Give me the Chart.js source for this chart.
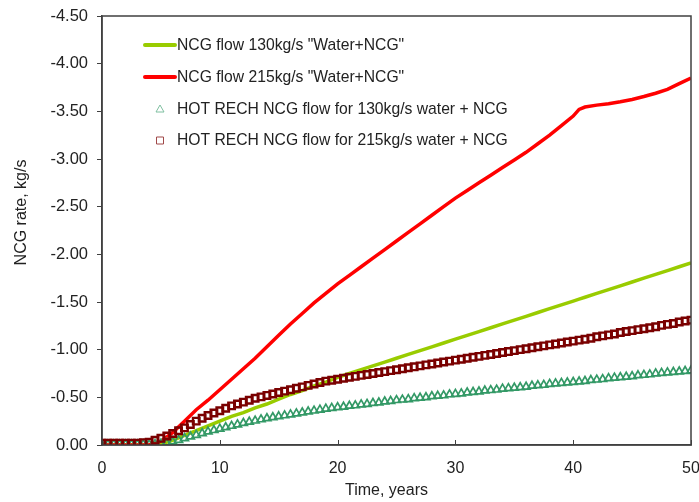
<!DOCTYPE html>
<html>
<head>
<meta charset="utf-8">
<script src="https://cdn.jsdelivr.net/npm/chart.js@4/dist/chart.umd.min.js"></script>
<style>
  html, body { margin: 0; padding: 0; background: #ffffff; }
  #wrap { width: 699px; height: 502px; }
</style>
</head>
<body>
<div id="wrap"><canvas id="chart" width="699" height="502"></canvas></div>
<script>
// Simulated NCG rate (kg/s, negative = extraction) against time in years.

// Time axis of the simulated curves (years)
const lineYears = [0, 1, 2, 3, 4, 5, 6, 7, 8, 9, 10, 11, 12, 13, 14, 15, 16, 17, 18, 19, 20,
  21, 22, 23, 24, 25, 26, 27, 28, 29, 30, 31, 32, 33, 34, 35, 36, 37, 38, 39, 40, 40.5,
  41, 42, 43, 44, 45, 46, 47, 48, 49, 50];

// NCG flow 130 kg/s "Water+NCG"
const ncg130 = [0, 0, 0, 0, 0, -0.01, -0.05, -0.10, -0.15, -0.20, -0.25, -0.30, -0.34, -0.39, -0.43, -0.48, -0.53, -0.57, -0.62, -0.66, -0.71,
  -0.75, -0.79, -0.83, -0.87, -0.91, -0.95, -0.99, -1.03, -1.07, -1.11, -1.15, -1.19, -1.23, -1.27, -1.31, -1.35, -1.39, -1.43, -1.47, -1.51, -1.53,
  -1.55, -1.59, -1.63, -1.67, -1.71, -1.75, -1.79, -1.83, -1.87, -1.91];

// NCG flow 215 kg/s "Water+NCG"
const ncg215 = [0, 0, 0, 0, 0, -0.04, -0.13, -0.25, -0.37, -0.47, -0.58, -0.69, -0.80, -0.91, -1.03, -1.15, -1.27, -1.38, -1.49, -1.59, -1.69,
  -1.78, -1.87, -1.96, -2.05, -2.14, -2.23, -2.32, -2.41, -2.50, -2.59, -2.67, -2.75, -2.83, -2.91, -2.99, -3.07, -3.16, -3.25, -3.35, -3.45, -3.52,
  -3.545, -3.565, -3.58, -3.60, -3.625, -3.655, -3.69, -3.73, -3.79, -3.85];

// Time axis of the HOT RECH output (years)
const hotYears = [0, 0.5, 1, 1.5, 2, 2.5, 3, 3.5, 4, 4.5, 5, 5.5, 6, 6.5, 7, 7.5, 8, 8.5, 9, 9.5,
  10, 10.5, 11, 11.5, 12, 12.5, 13, 13.5, 14, 14.5, 15, 15.5, 16, 16.5, 17, 17.5, 18, 18.5, 19, 19.5,
  20, 20.5, 21, 21.5, 22, 22.5, 23, 23.5, 24, 24.5, 25, 25.5, 26, 26.5, 27, 27.5, 28, 28.5, 29, 29.5,
  30, 30.5, 31, 31.5, 32, 32.5, 33, 33.5, 34, 34.5, 35, 35.5, 36, 36.5, 37, 37.5, 38, 38.5, 39, 39.5,
  40, 40.5, 41, 41.5, 42, 42.5, 43, 43.5, 44, 44.5, 45, 45.5, 46, 46.5, 47, 47.5, 48, 48.5, 49, 49.5, 50];

// HOT RECH NCG flow for 130 kg/s water + NCG
const hot130 = [-0.005, -0.005, -0.005, -0.005, -0.005, -0.005, -0.005, -0.005, -0.005, -0.008, -0.012, -0.02, -0.035, -0.052, -0.07, -0.088, -0.105, -0.122, -0.14, -0.155,
  -0.17, -0.185, -0.20, -0.215, -0.23, -0.243, -0.255, -0.268, -0.28, -0.29, -0.30, -0.31, -0.32, -0.33, -0.34, -0.35, -0.36, -0.37, -0.38, -0.388,
  -0.395, -0.40, -0.41, -0.415, -0.425, -0.43, -0.44, -0.445, -0.455, -0.46, -0.47, -0.475, -0.48, -0.49, -0.495, -0.50, -0.51, -0.515, -0.52, -0.53,
  -0.535, -0.54, -0.55, -0.555, -0.56, -0.57, -0.575, -0.58, -0.59, -0.595, -0.60, -0.605, -0.61, -0.62, -0.625, -0.63, -0.64, -0.645, -0.65, -0.655,
  -0.66, -0.665, -0.67, -0.68, -0.685, -0.69, -0.70, -0.705, -0.71, -0.715, -0.72, -0.73, -0.735, -0.74, -0.75, -0.755, -0.76, -0.765, -0.77, -0.775, -0.78];

// HOT RECH NCG flow for 215 kg/s water + NCG
const hot215 = [-0.02, -0.02, -0.02, -0.02, -0.02, -0.02, -0.02, -0.025, -0.03, -0.05, -0.07, -0.095, -0.12, -0.15, -0.18, -0.215, -0.25, -0.28, -0.31, -0.335,
  -0.36, -0.385, -0.41, -0.43, -0.45, -0.47, -0.49, -0.505, -0.52, -0.535, -0.55, -0.565, -0.58, -0.595, -0.61, -0.625, -0.64, -0.655, -0.67, -0.68,
  -0.69, -0.70, -0.71, -0.72, -0.73, -0.74, -0.75, -0.76, -0.77, -0.78, -0.79, -0.80, -0.81, -0.82, -0.83, -0.84, -0.85, -0.86, -0.87, -0.88,
  -0.89, -0.90, -0.91, -0.92, -0.93, -0.94, -0.95, -0.96, -0.97, -0.98, -0.99, -1.00, -1.01, -1.02, -1.03, -1.04, -1.05, -1.06, -1.07, -1.08,
  -1.09, -1.10, -1.11, -1.12, -1.135, -1.145, -1.155, -1.165, -1.18, -1.19, -1.20, -1.21, -1.22, -1.23, -1.24, -1.255, -1.265, -1.275, -1.29, -1.30, -1.31];

// Axis ticks
const xTicks = [0, 10, 20, 30, 40, 50];
const yTicks = [0, -0.5, -1, -1.5, -2, -2.5, -3, -3.5, -4, -4.5];

const xTitle = 'Time, years';
const yTitle = 'NCG rate, kg/s';

const seriesLabels = [
  'NCG flow 130kg/s "Water+NCG"',
  'NCG flow 215kg/s "Water+NCG"',
  'HOT RECH NCG flow for 130kg/s water + NCG',
  'HOT RECH NCG flow for 215kg/s water + NCG'
];

const pair = (xs, ys) => xs.map((x, i) => ({ x: x, y: ys[i] }));

const FONT = '"Liberation Sans", Arial, sans-serif';
const TEXT = '#222222';
const AXIS = '#404040';

// Frame around the plot area, inward ticks on the time axis, axis titles
const framePlugin = {
  id: 'frame',
  afterDraw(chart) {
    const { ctx, chartArea: a, scales } = chart;
    ctx.save();
    ctx.strokeStyle = AXIS;
    ctx.lineWidth = 1.5;
    ctx.strokeRect(a.left, a.top, a.right - a.left, a.bottom - a.top);
    ctx.lineWidth = 1;
    xTicks.forEach(v => {
      const px = Math.round(scales.x.getPixelForValue(v)) + 0.5;
      ctx.beginPath();
      ctx.moveTo(px, a.bottom);
      ctx.lineTo(px, a.bottom - 5);
      ctx.stroke();
    });

    ctx.fillStyle = TEXT;
    ctx.font = '16px ' + FONT;
    ctx.textAlign = 'center';
    ctx.textBaseline = 'middle';
    ctx.fillText(xTitle, a.left + (a.right - a.left) * 0.483, 491);
    ctx.translate(22, a.top + (a.bottom - a.top) * 0.458);
    ctx.rotate(-Math.PI / 2);
    ctx.fillText(yTitle, 0, 0);
    ctx.restore();
  }
};

// Legend drawn inside the plot area
const legendPlugin = {
  id: 'innerLegend',
  afterDraw(chart) {
    const { ctx } = chart;
    const x0 = 145, x1 = 175, tx = 177;
    const rows = [45, 77, 109, 140];
    ctx.save();
    ctx.font = '15.7px ' + FONT;
    ctx.textBaseline = 'middle';
    ctx.textAlign = 'left';
    chart.data.datasets.forEach(ds => {
      const y = rows[ds.legendRow];
      if (ds.showLine) {
        ctx.strokeStyle = ds.borderColor;
        ctx.lineWidth = 4;
        ctx.lineCap = 'round';
        ctx.beginPath();
        ctx.moveTo(x0, y);
        ctx.lineTo(x1, y);
        ctx.stroke();
      } else {
        const cx = 160;
        ctx.strokeStyle = ds.legendColor;
        ctx.lineWidth = 1;
        ctx.beginPath();
        if (ds.pointStyle === 'triangle') {
          ctx.moveTo(cx, y - 4);
          ctx.lineTo(cx + 4, y + 3);
          ctx.lineTo(cx - 4, y + 3);
          ctx.closePath();
        } else {
          ctx.rect(cx - 3.5, y - 3, 7, 7);
        }
        ctx.stroke();
      }
      ctx.fillStyle = TEXT;
      ctx.fillText(ds.label, tx, y + 1);
    });
    ctx.restore();
  }
};

new Chart(document.getElementById('chart'), {
  type: 'scatter',
  data: {
    datasets: [
      {
        label: seriesLabels[3], legendRow: 3, legendColor: '#a04848',
        data: pair(hotYears, hot215), showLine: false,
        pointStyle: 'rect', pointRadius: 4.6, borderWidth: 2.4,
        borderColor: '#7a0000', backgroundColor: 'rgba(0,0,0,0)', order: 0
      },
      {
        label: seriesLabels[2], legendRow: 2, legendColor: '#7fbfa0',
        data: pair(hotYears, hot130), showLine: false,
        pointStyle: 'triangle', pointRadius: 4.6, borderWidth: 1.7,
        borderColor: '#339966', backgroundColor: 'rgba(0,0,0,0)', order: 1
      },
      {
        label: seriesLabels[1], legendRow: 1,
        data: pair(lineYears, ncg215), showLine: true,
        borderColor: '#ff0000', borderWidth: 3.5, pointRadius: 0,
        tension: 0, order: 2
      },
      {
        label: seriesLabels[0], legendRow: 0,
        data: pair(lineYears, ncg130), showLine: true,
        borderColor: '#99cc00', borderWidth: 3.5, pointRadius: 0,
        tension: 0, order: 3
      }
    ]
  },
  options: {
    responsive: false,
    animation: false,
    events: [],
    layout: { padding: { top: 16, right: 8, left: 0, bottom: 0 } },
    plugins: { legend: { display: false }, tooltip: { enabled: false } },
    scales: {
      x: {
        type: 'linear', min: 0, max: 50,
        afterBuildTicks: s => { s.ticks = xTicks.map(v => ({ value: v })); },
        afterFit: s => { s.height = 57; s.paddingLeft = 0; s.paddingRight = 0; },
        ticks: { color: TEXT, font: { family: FONT, size: 16 }, padding: 14 },
        grid: { display: false, drawTicks: false },
        border: { display: true, color: AXIS, width: 1.5 },
        title: { display: false }
      },
      y: {
        type: 'linear', min: -4.5, max: 0, reverse: true,
        afterBuildTicks: s => { s.ticks = yTicks.map(v => ({ value: v })); },
        afterFit: s => { s.width = 102; s.paddingTop = 0; s.paddingBottom = 0; },
        ticks: { color: TEXT, font: { family: FONT, size: 16.5 }, padding: 9, callback: v => v.toFixed(2) },
        grid: { drawOnChartArea: false, drawTicks: true, tickLength: 5, color: AXIS, lineWidth: 1 },
        border: { display: true, color: AXIS, width: 1.5 },
        title: { display: false }
      }
    }
  },
  plugins: [framePlugin, legendPlugin]
});
</script>
</body>
</html>
